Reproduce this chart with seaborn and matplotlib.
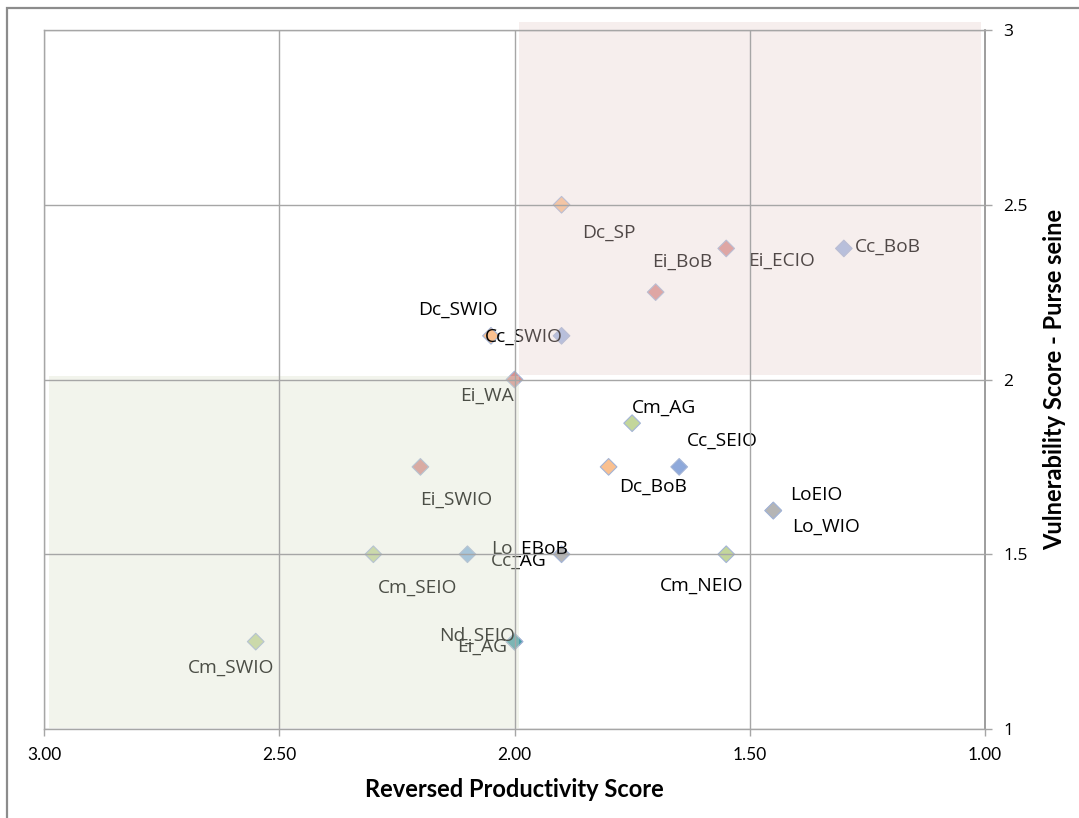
import numpy as np
import pandas as pd
import seaborn as sns
import matplotlib.pyplot as plt
from matplotlib.patches import Rectangle

# Stocks, their reversed productivity and purse-seine vulnerability scores
stocks = ["Dc_SP", "Ei_ECIO", "Ei_BoB", "Cc_BoB", "Dc_SWIO", "Cc_SWIO", "Ei_WA",
          "Cm_AG", "Cc_SEIO", "Dc_BoB", "Ei_SWIO", "LoEIO", "Lo_WIO", "Cm_NEIO",
          "Cm_SEIO", "Cc_AG", "Lo_EBoB", "Cm_SWIO", "Ei_AG", "Nd_SEIO"]
productivity = [1.90, 1.55, 1.70, 1.30, 2.05, 1.90, 2.00,
                1.75, 1.65, 1.80, 2.20, 1.45, 1.45, 1.55,
                2.30, 2.10, 1.90, 2.55, 2.00, 2.00]
vulnerability = [2.500, 2.375, 2.250, 2.375, 2.125, 2.125, 2.000,
                 1.875, 1.750, 1.750, 1.750, 1.625, 1.625, 1.500,
                 1.500, 1.500, 1.500, 1.250, 1.250, 1.250]

# Marker fill per stock (grouped by species)
colors = {
    "Dc_SP": "#FAC090", "Dc_SWIO": "#FAC090", "Dc_BoB": "#FAC08F",
    "Ei_ECIO": "#D9908F", "Ei_BoB": "#D9908F", "Ei_WA": "#D9908F",
    "Ei_SWIO": "#D9908F", "Ei_AG": "#D9908F",
    "Cc_BoB": "#9FB6E3", "Cc_SWIO": "#9FB6E3", "Cc_SEIO": "#8EA9DB", "Cc_AG": "#8DB8E2",
    "Cm_AG": "#C3D69B", "Cm_NEIO": "#C3D69B", "Cm_SEIO": "#C3D69B", "Cm_SWIO": "#C3D69B",
    "LoEIO": "#B5B5B5", "Lo_WIO": "#B5B5B5", "Lo_EBoB": "#B5B5B5",
    "Nd_SEIO": "#4A9EAA",
}

# Label offsets (points) from each marker
offsets = {
    "Dc_SP": (34, -20), "Ei_ECIO": (40, -9), "Ei_BoB": (19, 22), "Cc_BoB": (32, 1),
    "Dc_SWIO": (-24, 19), "Cc_SWIO": (-27, -1), "Ei_WA": (-20, -12),
    "Cm_AG": (23, 11), "Cc_SEIO": (31, 19), "Dc_BoB": (32, -14), "Ei_SWIO": (26, -24),
    "LoEIO": (31, 11), "Lo_WIO": (38, -12), "Cm_NEIO": (-18, -23),
    "Cm_SEIO": (32, -24), "Cc_AG": (37, -5), "Lo_EBoB": (-23, 4),
    "Cm_SWIO": (-18, -19), "Ei_AG": (-23, -4), "Nd_SEIO": (-27, 4),
}

df = pd.DataFrame({"stock": stocks, "productivity": productivity,
                   "vulnerability": vulnerability})

sns.set_theme(style="white")
plt.rcParams["font.family"] = ["Open Sans", "DejaVu Sans"]

fig = plt.figure(figsize=(10.79, 8.18), dpi=100)
ax = fig.add_axes([44 / 1079, 1 - 729 / 818, (985 - 44) / 1079, (729 - 30) / 818])

sns.scatterplot(data=df, x="productivity", y="vulnerability", hue="stock",
                palette=colors, marker="D", s=72, edgecolor="#A3B4D6",
                linewidth=0.8, legend=False, ax=ax, zorder=1)

for name, px, vy in zip(stocks, productivity, vulnerability):
    dx, dy = offsets[name]
    ax.annotate(name, (px, vy), xytext=(dx, dy), textcoords="offset points",
                ha="center", va="center", fontsize=13.8, color="black",
                zorder=1.2, annotation_clip=False)

# Shaded quadrants, laid over points and labels
ax.add_patch(Rectangle((1.009, 2.014), 0.981, 1.009, facecolor="#E8D1CE",
                       alpha=0.35, edgecolor="none", zorder=1.5, clip_on=False))
ax.add_patch(Rectangle((1.99, 1.003), 1.0, 1.006, facecolor="#DAE0C9",
                       alpha=0.35, edgecolor="none", zorder=1.5, clip_on=False))

ax.set_xlim(3, 1)
ax.set_ylim(1, 3)
ax.set_xticks([3.0, 2.5, 2.0, 1.5, 1.0])
ax.set_xticklabels(["3.00", "2.50", "2.00", "1.50", "1.00"], family="Lato", fontsize=12.5)
ax.set_yticks([1, 1.5, 2, 2.5, 3])
ax.set_yticklabels(["1", "1.5", "2", "2.5", "3"], fontsize=12.5)
ax.yaxis.tick_right()
ax.yaxis.set_label_position("right")

ax.set_axisbelow(False)
ax.grid(True, color="#A6A6A6", linewidth=1.0)
ax.tick_params(axis="x", direction="out", length=5, width=1, color="#A6A6A6",
               pad=8, bottom=True, labelcolor="black")
ax.tick_params(axis="y", direction="out", length=5, width=1, color="#A6A6A6",
               pad=8, right=True, left=False, labelcolor="black")

for side in ["left", "top", "bottom"]:
    ax.spines[side].set_color("#A6A6A6")
    ax.spines[side].set_linewidth(1.0)
ax.spines["right"].set_color("#8C8C8C")
ax.spines["right"].set_linewidth(1.2)

ax.set_xlabel("Reversed Productivity Score", family="Lato", fontweight="bold",
              fontsize=17, color="black", labelpad=11)
ax.set_ylabel("Vulnerability Score - Purse seine", family="Lato", fontweight="bold",
              fontsize=17, color="black", labelpad=11)

# Outer chart-area frame
fig.patches.append(Rectangle((7 / 1079, -0.1), 1.2, 1.1 - 8 / 818,
                             transform=fig.transFigure, fill=False,
                             edgecolor="#8C8C8C", linewidth=1.6))

fig.savefig("out.png", dpi=100, facecolor="white")
